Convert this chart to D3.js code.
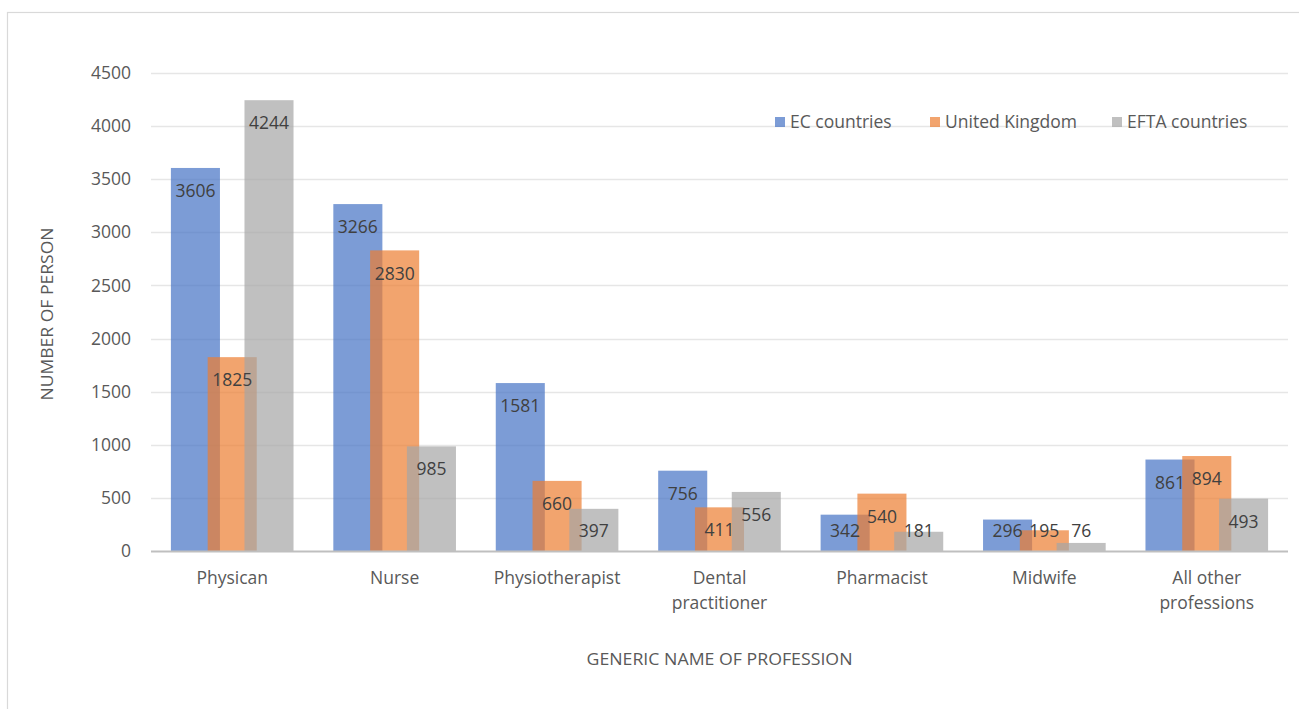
<!DOCTYPE html>
<html>
<head>
<meta charset="utf-8">
<script src="https://cdn.jsdelivr.net/npm/d3@7"></script>
<style>
  html, body { margin: 0; padding: 0; background: #fff; }
  svg { display: block; }
  text { font-family: "Open Sans", sans-serif; }
</style>
</head>
<body>
<svg id="chart" width="1299" height="709"></svg>
<script>
const categories = ["Physican", "Nurse", "Physiotherapist", "Dental practitioner", "Pharmacist", "Midwife", "All other professions"];
const categoryLines = [["Physican"], ["Nurse"], ["Physiotherapist"], ["Dental", "practitioner"], ["Pharmacist"], ["Midwife"], ["All other", "professions"]];
const seriesNames = ["EC countries", "United Kingdom", "EFTA countries"];
const ecValues = [3606, 3266, 1581, 756, 342, 296, 861];
const ukValues = [1825, 2830, 660, 411, 540, 195, 894];
const eftaValues = [4244, 985, 397, 556, 181, 76, 493];
const yTicks = [0, 500, 1000, 1500, 2000, 2500, 3000, 3500, 4000, 4500];
const colors = ["#4472C4", "#ED7D31", "#A5A5A5"];
const yTitle = "NUMBER OF PERSON";
const xTitle = "GENERIC NAME OF PROFESSION";

const seriesValues = [ecValues, ukValues, eftaValues];
const svg = d3.select("#chart");
const FS = 17.5;

// chart border
svg.append("rect").attr("x", 7.5).attr("y", 12.5).attr("width", 1400).attr("height", 800)
  .attr("fill", "none").attr("stroke", "#D9D9D9").attr("stroke-width", 1.2);

const x0 = d3.scaleBand().domain(categories).range([151, 1288]).padding(0);
const y = d3.scaleLinear().domain([0, 4500]).range([551, 73]);
const barW = x0.bandwidth() * 0.302;
const xs = d3.scalePoint().domain(seriesNames).range([-barW * 0.75, barW * 0.75]);

// gridlines
svg.append("g").selectAll("line").data(yTicks.filter(d => d > 0)).join("line")
  .attr("x1", 151).attr("x2", 1288)
  .attr("y1", d => Math.round(y(d)) + 0.5).attr("y2", d => Math.round(y(d)) + 0.5)
  .attr("stroke", "#E6E6E6").attr("stroke-width", 1.3);

// y axis tick labels
const yAxis = d3.axisLeft(y).tickValues(yTicks).tickFormat(d3.format("d")).tickSize(0).tickPadding(20);
const gy = svg.append("g").attr("transform", "translate(151,0)").call(yAxis);
gy.select(".domain").remove();
gy.selectAll("text").attr("font-size", FS).attr("fill", "#595959").style("font-family", "Open Sans");

// bars
seriesNames.forEach((s, si) => {
  svg.append("g").selectAll("rect").data(categories).join("rect")
    .attr("x", c => x0(c) + x0.bandwidth() / 2 + xs(s) - barW / 2)
    .attr("width", barW)
    .attr("y", (c, i) => y(seriesValues[si][i]))
    .attr("height", (c, i) => y(0) - y(seriesValues[si][i]))
    .attr("fill", colors[si]).attr("fill-opacity", 0.7);
});

// x axis line
svg.append("line").attr("x1", 151).attr("x2", 1288).attr("y1", y(0) + 0.5).attr("y2", y(0) + 0.5)
  .attr("stroke", "#BFBFBF").attr("stroke-width", 2.2);

// data labels
seriesNames.forEach((s, si) => {
  svg.append("g").selectAll("text").data(categories).join("text")
    .attr("x", c => x0(c) + x0.bandwidth() / 2 + xs(s))
    .attr("y", (c, i) => Math.min(y(seriesValues[si][i]) + 23, y(0) - 20))
    .attr("dy", "0.35em")
    .attr("text-anchor", "middle")
    .attr("font-size", FS).attr("fill", "#404040")
    .text((c, i) => seriesValues[si][i]);
});

// category labels
const gx = svg.append("g");
categories.forEach((c, i) => {
  const t = gx.append("text").attr("x", x0(c) + x0.bandwidth() / 2).attr("y", 584)
    .attr("text-anchor", "middle").attr("font-size", FS).attr("fill", "#595959");
  categoryLines[i].forEach((line, li) => {
    t.append("tspan").attr("x", x0(c) + x0.bandwidth() / 2).attr("dy", li === 0 ? 0 : 25).text(line);
  });
});

// axis titles
svg.append("text").attr("x", (151 + 1288) / 2).attr("y", 665).attr("text-anchor", "middle")
  .attr("font-size", 15.5).attr("fill", "#595959").attr("textLength", 266).attr("lengthAdjust", "spacingAndGlyphs")
  .text(xTitle);
svg.append("text").attr("transform", "translate(53,314) rotate(-90)").attr("text-anchor", "middle")
  .attr("font-size", 15.5).attr("fill", "#595959").attr("textLength", 173).attr("lengthAdjust", "spacingAndGlyphs")
  .text(yTitle);

// legend
const legendX = [775, 930, 1112];
const lg = svg.append("g");
seriesNames.forEach((s, si) => {
  lg.append("rect").attr("x", legendX[si]).attr("y", 117).attr("width", 10).attr("height", 10)
    .attr("fill", colors[si]).attr("fill-opacity", 0.7);
  lg.append("text").attr("x", legendX[si] + 15).attr("y", 122).attr("dy", "0.35em")
    .attr("font-size", FS).attr("fill", "#595959").text(s);
});
</script>
</body>
</html>
